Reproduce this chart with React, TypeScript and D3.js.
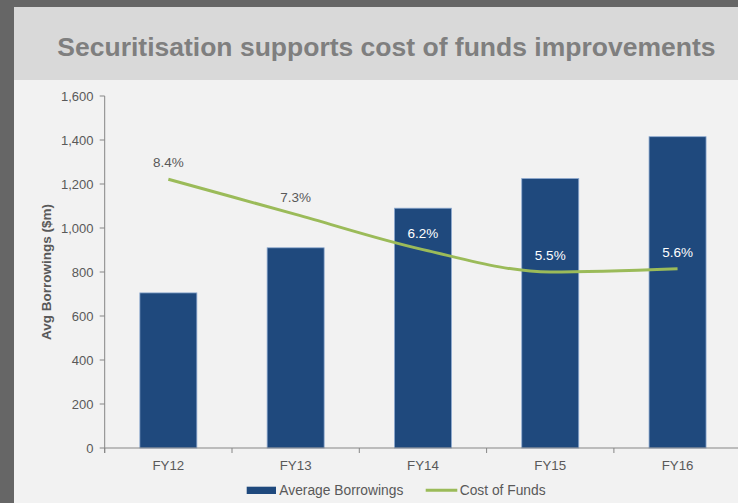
import React from "react";
import * as d3 from "d3";

const categories = ["FY12", "FY13", "FY14", "FY15", "FY16"];
const borrowings = [705, 910, 1090, 1225, 1415];
const costOfFunds = [8.4, 7.3, 6.2, 5.5, 5.6];
const yTicks = [0, 200, 400, 600, 800, 1000, 1200, 1400, 1600];
const title = "Securitisation supports cost of funds improvements";
const yTitle = "Avg Borrowings ($m)";
const legendLabels = ["Average Borrowings", "Cost of Funds"];

const W = 738;
const H = 503;
const FONT = "'Liberation Sans', Arial, sans-serif";
const BAR = "#1f497d";
const GREEN = "#9bbb59";
const AXIS = "#868686";
const TXT = "#595959";

export default function App() {
  const left = 104.7;
  const band = 127.3;
  const xb = d3.scaleBand<string>().domain(categories).range([left, left + band * categories.length]);
  const y = d3.scaleLinear().domain([0, 1600]).range([448, 96]);
  const y2 = d3.scaleLinear().domain([0, 11]).range([448, 96]);

  const cx = (c: string) => (xb(c) as number) + xb.bandwidth() / 2;
  const line = d3
    .line<number>()
    .x((_, i) => cx(categories[i]))
    .y((v) => y2(v))
    .curve(d3.curveMonotoneX);

  const boundaries = categories.map((c) => xb(c) as number).concat([left + band * categories.length]);

  return (
    <svg
      width={W}
      height={H}
      style={{ position: "absolute", left: 0, top: 0, fontFamily: FONT }}
    >
      <rect x={0} y={0} width={W} height={H} fill="#666666" />
      <rect x={14} y={7} width={W - 14} height={H - 7} fill="#f2f2f2" />
      <rect x={14} y={7} width={W - 14} height={73} fill="#d9d9d9" />
      <text x={57.3} y={56} fontSize={26.5} fontWeight="bold" fill="#7f7f7f">
        {title}
      </text>

      {/* bars */}
      {categories.map((c, i) => (
        <rect
          key={c}
          x={(xb(c) as number) + (band - 57) / 2}
          y={y(borrowings[i])}
          width={57}
          height={y(0) - y(borrowings[i])}
          fill={BAR}
          stroke="#8eaad0"
          strokeWidth={0.8}
        />
      ))}

      {/* y axis */}
      <line x1={left} x2={left} y1={y(1600)} y2={y(0) + 5} stroke={AXIS} strokeWidth={1} />
      {yTicks.map((t) => (
        <g key={t}>
          <line x1={left - 5} x2={left} y1={y(t)} y2={y(t)} stroke={AXIS} strokeWidth={1} />
          <text x={93.5} y={y(t)} dy="0.35em" textAnchor="end" fontSize={13} fill={TXT}>
            {d3.format(",")(t)}
          </text>
        </g>
      ))}
      {/* x axis */}
      <line x1={left} x2={W} y1={y(0)} y2={y(0)} stroke={AXIS} strokeWidth={1} />
      {boundaries.map((b, i) => (
        <line key={i} x1={b} x2={b} y1={y(0)} y2={y(0) + 5} stroke={AXIS} strokeWidth={1} />
      ))}
      {categories.map((c) => (
        <text key={c} x={cx(c)} y={470} textAnchor="middle" fontSize={13.3} fill={TXT}>
          {c}
        </text>
      ))}

      <text
        transform={`translate(51,${(y(0) + y(1600)) / 2}) rotate(-90)`}
        textAnchor="middle"
        fontSize={13.5}
        fontWeight="bold"
        fill={TXT}
      >
        {yTitle}
      </text>

      {/* cost line */}
      <path d={line(costOfFunds) || ""} fill="none" stroke={GREEN} strokeWidth={3} />
      {costOfFunds.map((v, i) => {
        const ly = y2(v) - 12;
        const inside = ly > y(borrowings[i]);
        return (
          <text
            key={i}
            x={cx(categories[i])}
            y={ly}
            textAnchor="middle"
            fontSize={13.5}
            fill={inside ? "#ffffff" : TXT}
          >
            {d3.format(".1f")(v) + "%"}
          </text>
        );
      })}

      {/* legend */}
      <rect x={246.7} y={486.7} width={29.3} height={7.3} fill={BAR} />
      <text x={279.3} y={490.5} dy="0.35em" fontSize={13.8} fill={TXT}>
        {legendLabels[0]}
      </text>
      <line x1={425.7} x2={457.3} y1={490.3} y2={490.3} stroke={GREEN} strokeWidth={3} />
      <text x={459.7} y={490.5} dy="0.35em" fontSize={13.8} fill={TXT}>
        {legendLabels[1]}
      </text>
    </svg>
  );
}
